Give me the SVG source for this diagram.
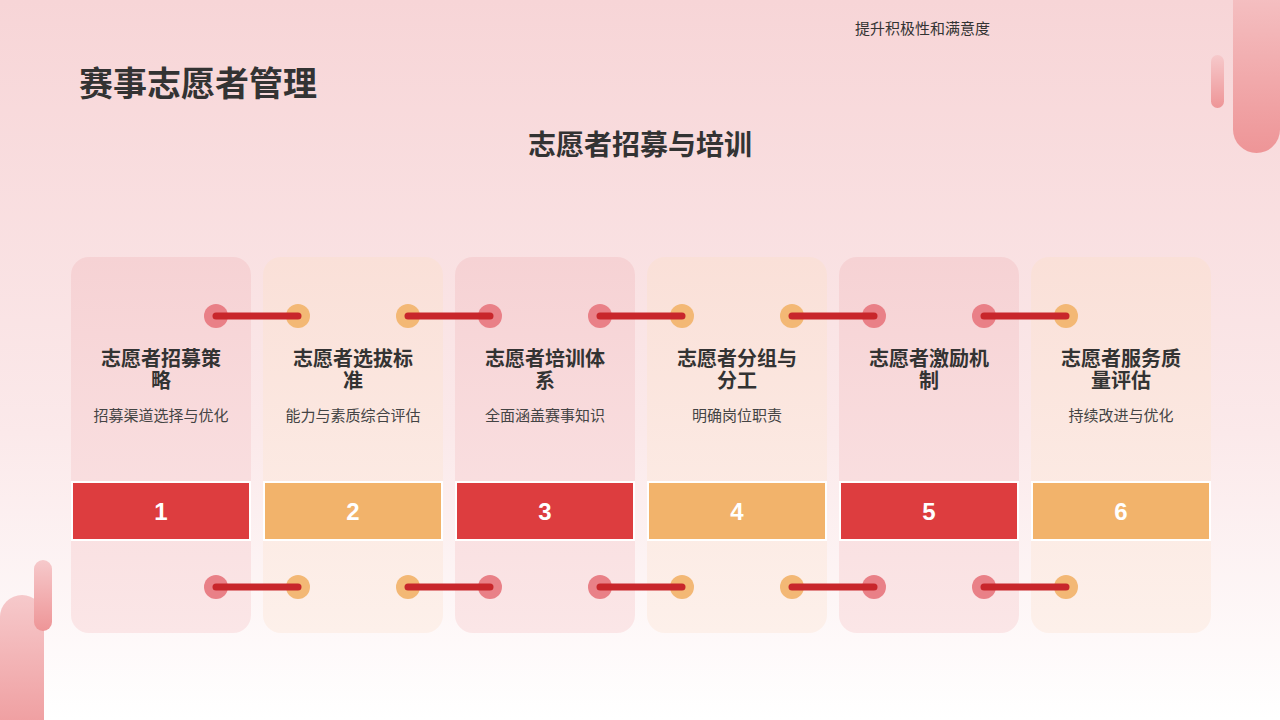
<svg xmlns="http://www.w3.org/2000/svg" width="1280" height="720" viewBox="0 0 1280 720">
<defs>
<linearGradient id="bg" x1="0" y1="0" x2="0" y2="1"><stop offset="0" stop-color="#f7d5d7"/><stop offset="0.6" stop-color="#fbe9ea"/><stop offset="1" stop-color="#ffffff"/></linearGradient>
<linearGradient id="pill" x1="0" y1="0" x2="0" y2="1"><stop offset="0" stop-color="#f6c9cb"/><stop offset="1" stop-color="#ee9597"/></linearGradient>
<linearGradient id="cr" x1="0" y1="0" x2="0" y2="1"><stop offset="0" stop-color="#f6d2d4"/><stop offset="1" stop-color="#fbe6e7"/></linearGradient>
<linearGradient id="co" x1="0" y1="0" x2="0" y2="1"><stop offset="0" stop-color="#fae0d8"/><stop offset="1" stop-color="#fdf0ea"/></linearGradient>
</defs>
<style>
.t{font-family:"Liberation Sans","Noto Sans CJK SC",sans-serif;fill:#333}
.h{font-size:20px;font-weight:bold;text-anchor:middle}
.s{font-size:15px;text-anchor:middle;fill:#444}
.n{font-family:"Liberation Sans",sans-serif;font-size:24px;font-weight:bold;fill:#fff;text-anchor:middle}
.dr{fill:#e98087}.do{fill:#f3b875}
.ln{stroke:#c8262b;stroke-width:7;stroke-linecap:round}
</style>
<rect width="1280" height="720" fill="url(#bg)"/>
<rect x="1233" y="-40" width="47" height="193" rx="23.5" fill="url(#pill)"/>
<rect x="1211" y="55" width="13" height="53" rx="6.5" fill="url(#pill)"/>
<rect x="0" y="595" width="44" height="160" rx="22" fill="url(#pill)"/>
<rect x="34" y="560" width="18" height="71" rx="9" fill="url(#pill)"/>
<text class="t" x="855" y="34" font-size="15">提升积极性和满意度</text>
<text class="t" x="79" y="96" font-size="34" font-weight="bold">赛事志愿者管理</text>
<text class="t" x="640" y="155" font-size="28" font-weight="bold" text-anchor="middle">志愿者招募与培训</text>
<g id="node1"><rect x="71" y="257" width="180" height="376" rx="18" fill="url(#cr)"/><text class="t h" x="161" y="366">志愿者招募策</text><text class="t h" x="161" y="388">略</text><text class="t s" x="161" y="421">招募渠道选择与优化</text><rect x="71" y="481" width="180" height="60" fill="#fff"/><rect x="73" y="483" width="176" height="56" fill="#dd3d3f"/><text class="n" x="161" y="520">1</text></g>
<g id="node2"><rect x="263" y="257" width="180" height="376" rx="18" fill="url(#co)"/><text class="t h" x="353" y="366">志愿者选拔标</text><text class="t h" x="353" y="388">准</text><text class="t s" x="353" y="421">能力与素质综合评估</text><rect x="263" y="481" width="180" height="60" fill="#fff"/><rect x="265" y="483" width="176" height="56" fill="#f2b36b"/><text class="n" x="353" y="520">2</text></g>
<g id="node3"><rect x="455" y="257" width="180" height="376" rx="18" fill="url(#cr)"/><text class="t h" x="545" y="366">志愿者培训体</text><text class="t h" x="545" y="388">系</text><text class="t s" x="545" y="421">全面涵盖赛事知识</text><rect x="455" y="481" width="180" height="60" fill="#fff"/><rect x="457" y="483" width="176" height="56" fill="#dd3d3f"/><text class="n" x="545" y="520">3</text></g>
<g id="node4"><rect x="647" y="257" width="180" height="376" rx="18" fill="url(#co)"/><text class="t h" x="737" y="366">志愿者分组与</text><text class="t h" x="737" y="388">分工</text><text class="t s" x="737" y="421">明确岗位职责</text><rect x="647" y="481" width="180" height="60" fill="#fff"/><rect x="649" y="483" width="176" height="56" fill="#f2b36b"/><text class="n" x="737" y="520">4</text></g>
<g id="node5"><rect x="839" y="257" width="180" height="376" rx="18" fill="url(#cr)"/><text class="t h" x="929" y="366">志愿者激励机</text><text class="t h" x="929" y="388">制</text><rect x="839" y="481" width="180" height="60" fill="#fff"/><rect x="841" y="483" width="176" height="56" fill="#dd3d3f"/><text class="n" x="929" y="520">5</text></g>
<g id="node6"><rect x="1031" y="257" width="180" height="376" rx="18" fill="url(#co)"/><text class="t h" x="1121" y="366">志愿者服务质</text><text class="t h" x="1121" y="388">量评估</text><text class="t s" x="1121" y="421">持续改进与优化</text><rect x="1031" y="481" width="180" height="60" fill="#fff"/><rect x="1033" y="483" width="176" height="56" fill="#f2b36b"/><text class="n" x="1121" y="520">6</text></g>
<g id="connectors">
<circle class="dr" cx="216" cy="316" r="12"/><circle class="do" cx="298" cy="316" r="12"/><line class="ln" x1="216" y1="316" x2="298" y2="316"/>
<circle class="do" cx="408" cy="316" r="12"/><circle class="dr" cx="490" cy="316" r="12"/><line class="ln" x1="408" y1="316" x2="490" y2="316"/>
<circle class="dr" cx="600" cy="316" r="12"/><circle class="do" cx="682" cy="316" r="12"/><line class="ln" x1="600" y1="316" x2="682" y2="316"/>
<circle class="do" cx="792" cy="316" r="12"/><circle class="dr" cx="874" cy="316" r="12"/><line class="ln" x1="792" y1="316" x2="874" y2="316"/>
<circle class="dr" cx="984" cy="316" r="12"/><circle class="do" cx="1066" cy="316" r="12"/><line class="ln" x1="984" y1="316" x2="1066" y2="316"/>
<circle class="dr" cx="216" cy="587" r="12"/><circle class="do" cx="298" cy="587" r="12"/><line class="ln" x1="216" y1="587" x2="298" y2="587"/>
<circle class="do" cx="408" cy="587" r="12"/><circle class="dr" cx="490" cy="587" r="12"/><line class="ln" x1="408" y1="587" x2="490" y2="587"/>
<circle class="dr" cx="600" cy="587" r="12"/><circle class="do" cx="682" cy="587" r="12"/><line class="ln" x1="600" y1="587" x2="682" y2="587"/>
<circle class="do" cx="792" cy="587" r="12"/><circle class="dr" cx="874" cy="587" r="12"/><line class="ln" x1="792" y1="587" x2="874" y2="587"/>
<circle class="dr" cx="984" cy="587" r="12"/><circle class="do" cx="1066" cy="587" r="12"/><line class="ln" x1="984" y1="587" x2="1066" y2="587"/>
</g>
</svg>
